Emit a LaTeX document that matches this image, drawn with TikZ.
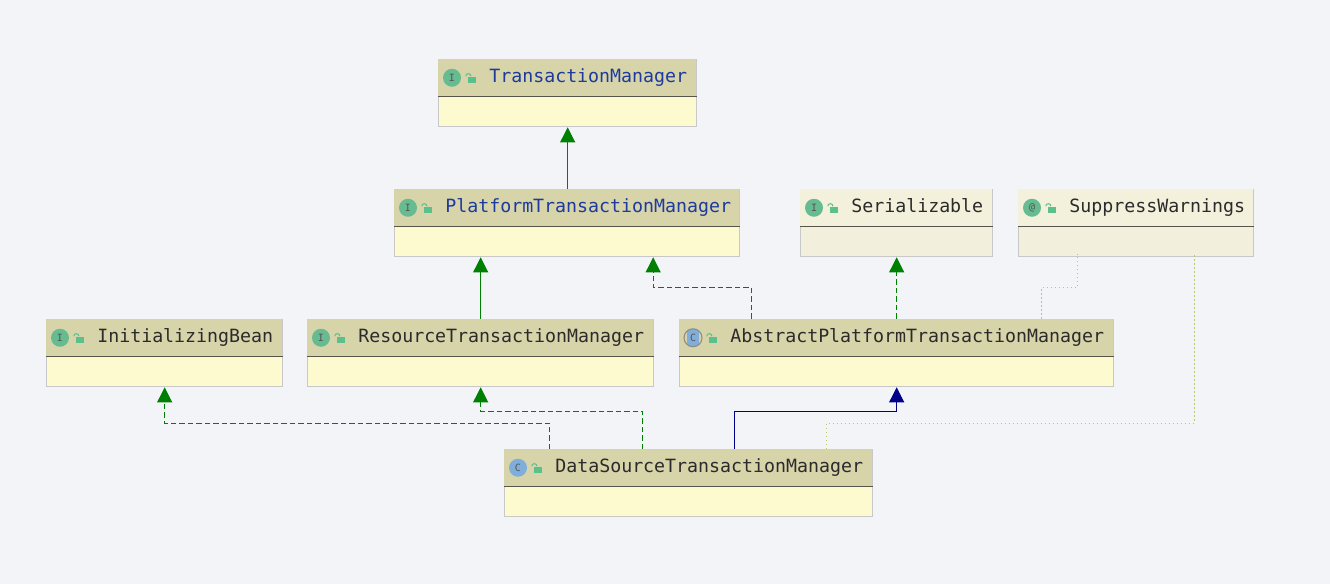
\documentclass[tikz,border=0pt]{standalone}
\usepackage{fontspec}
\setmonofont{DejaVu Sans Mono}
\usetikzlibrary{arrows.meta,positioning,calc}
\definecolor{Backdrop}{HTML}{F2F4F8}
\definecolor{HeadY}{HTML}{D7D4AA}
\definecolor{BodyY}{HTML}{FEFACF}
\definecolor{HeadP}{HTML}{F3F0DC}
\definecolor{BodyP}{HTML}{F2EFDC}
\definecolor{Rim}{HTML}{C8C8C8}
\definecolor{Rule}{HTML}{55554A}
\definecolor{Ink}{HTML}{2B2B2B}
\definecolor{NameBlue}{HTML}{1D3A9C}
\definecolor{IfaceGreen}{HTML}{66BB90}
\definecolor{ClassBlue}{HTML}{80AEDA}
\definecolor{LockGreen}{HTML}{5CC08C}
\definecolor{Implement}{HTML}{008000}
\definecolor{Extend}{HTML}{000088}
\definecolor{Annot}{HTML}{C3C375}
\def\px{0.75pt}
\tikzset{
  boxbody/.style={draw=Rim,line width=1pt,inner sep=0pt,minimum height=67*\px,anchor=north west},
  boxhead/.style={inner sep=0pt,minimum height=37*\px,anchor=north west},
  boxname/.style={inner sep=0pt,anchor=west,font=\ttfamily\fontsize{13.7pt}{16pt}\selectfont,text=Ink,text height=10pt,text depth=3pt},
  roundicon/.style={circle,inner sep=0pt,minimum size=18*\px,font=\ttfamily\fontsize{7.5pt}{8pt}\selectfont,text=Ink!80},
  ifaceicon/.style={roundicon,fill=IfaceGreen},
  classicon/.style={roundicon,fill=ClassBlue},
  abstracticon/.style={roundicon,draw=Rim!70!black,line width=0.8pt,path picture={\fill[ClassBlue,rounded corners=1pt] ([xshift=-6*\px,yshift=-9*\px]path picture bounding box.center) rectangle ([xshift=6*\px,yshift=9*\px]path picture bounding box.center);}},
  lockbody/.style={fill=LockGreen,inner sep=0pt,minimum width=8*\px,minimum height=6.5*\px},
  solidarr/.style={-{Triangle[length=15*\px,width=15*\px]},draw=#1,line width=1*\px},
  dasharr/.style={-{Triangle[length=15*\px,width=15*\px]},draw=Implement,line width=1*\px,dash pattern=on 5.5*\px off 3*\px},
  annotline/.style={draw=Annot,line width=1*\px,dash pattern=on 1.5*\px off 2.5*\px}
}
% id, left, top, width, Y or P, icon style, letter, name
\newcommand{\classbox}[8]{
  \node[boxbody,fill=Body#5,minimum width=#4*\px] (#1) at (#2,#3) {};
  \node[boxhead,fill=Head#5,minimum width=#4*\px] (#1head) at (#2,#3) {};
  \draw[Rule,line width=1.3*\px] (#1head.south west) -- (#1head.south east);
  \node[#6] (#1icon) at ([xshift=14*\px]#1head.west) {#7};
  \node[lockbody] (#1lock) at ([xshift=34*\px,yshift=-2*\px]#1head.west) {};
  \draw[LockGreen,line width=1*\px] ([xshift=-2*\px]#1lock.north west) arc[start angle=180,end angle=0,radius=2.6*\px];
  \node[boxname] (#1name) at ([xshift=51*\px]#1head.west) {#8};
}
\begin{document}
\begin{tikzpicture}[x=\px,y=-\px]
  \useasboundingbox[fill=Backdrop] (0,0) rectangle (1330,584);
  \classbox{manager}{438}{59}{258}{Y}{ifaceicon}{I}{\color{NameBlue}TransactionManager}
  \classbox{platform}{394}{189}{345}{Y}{ifaceicon}{I}{\color{NameBlue}PlatformTransactionManager}
  \classbox{serial}{800}{189}{192}{P}{ifaceicon}{I}{Serializable}
  \classbox{suppress}{1018}{189}{235}{P}{ifaceicon}{@}{SuppressWarnings}
  \classbox{initbean}{46}{319}{236}{Y}{ifaceicon}{I}{InitializingBean}
  \classbox{resource}{307}{319}{346}{Y}{ifaceicon}{I}{ResourceTransactionManager}
  \classbox{abstract}{679}{319}{434}{Y}{abstracticon}{C}{AbstractPlatformTransactionManager}
  \classbox{source}{504}{449}{368}{Y}{classicon}{C}{DataSourceTransactionManager}
  % solid
  \draw[solidarr=Implement] (platform.north -| manager.south) -- (manager.south);
  \draw[solidarr=Implement] (resource.north) -- (resource.north |- platform.south);
  % dashed
  \draw[dasharr] ([xshift=-145*\px]abstract.north) -- ++(0,-31) -| ([xshift=86*\px]platform.south);
  \draw[dasharr] (abstract.north) -- (serial.south);
  \draw[dasharr] ([xshift=-139*\px]source.north) -- ++(0,-26) -| (initbean.south);
  \draw[dasharr] ([xshift=-46*\px]source.north) -- ++(0,-38) -| (resource.south);
  \draw[solidarr=Extend] ([xshift=46*\px]source.north) -- ++(0,-38) -| (abstract.south);
  % annotations
  \draw[annotline] ([xshift=145*\px]abstract.north) -- ++(0,-31) -| ([xshift=-59*\px,yshift=3*\px]suppress.south);
  \draw[annotline] ([xshift=138*\px]source.north) -- ++(0,-26) -| ([xshift=58*\px,yshift=3*\px]suppress.south);
\end{tikzpicture}
\end{document}
